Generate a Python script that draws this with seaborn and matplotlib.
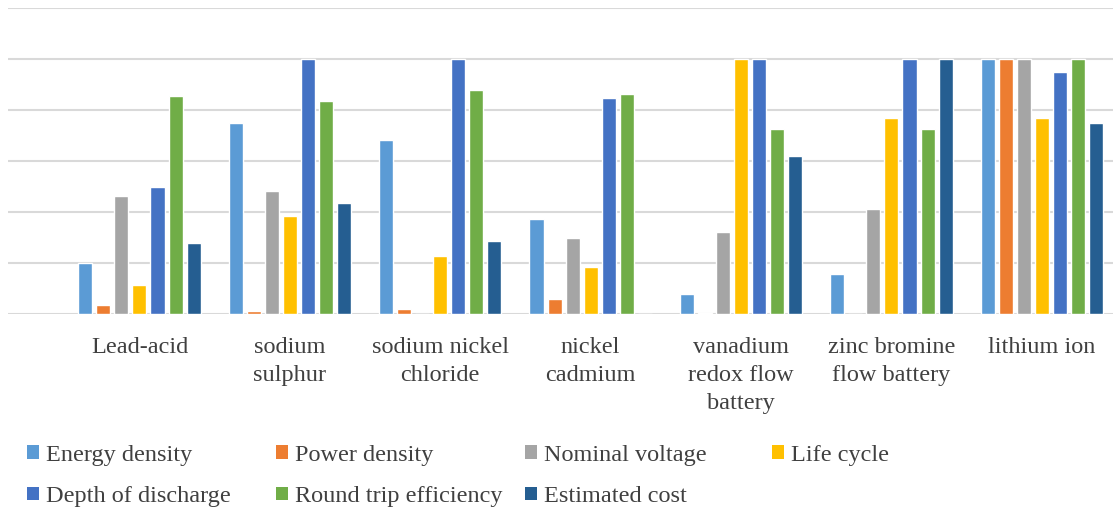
import matplotlib
matplotlib.use("Agg")
import matplotlib.pyplot as plt
import seaborn as sns
import pandas as pd
from matplotlib.patches import Patch

categories = ["Lead-acid", "sodium sulphur", "sodium nickel chloride", "nickel cadmium",
              "vanadium redox flow battery", "zinc bromine flow battery", "lithium ion"]
tick_labels = ["Lead-acid", "sodium\nsulphur", "sodium nickel\nchloride", "nickel\ncadmium",
               "vanadium\nredox flow\nbattery", "zinc bromine\nflow battery", "lithium ion"]
series = ["Energy density", "Power density", "Nominal voltage", "Life cycle",
          "Depth of discharge", "Round trip efficiency", "Estimated cost"]

energy_density = [0.20, 0.75, 0.685, 0.374, 0.080, 0.158, 1.00]
power_density = [0.037, 0.014, 0.022, 0.060, 0.004, 0.003, 1.00]
nominal_voltage = [0.465, 0.485, 0.0, 0.301, 0.322, 0.414, 1.00]
life_cycle = [0.115, 0.387, 0.229, 0.187, 1.00, 0.771, 0.771]
depth_of_discharge = [0.50, 1.00, 1.00, 0.848, 1.00, 1.00, 0.949]
round_trip_efficiency = [0.856, 0.835, 0.878, 0.862, 0.727, 0.727, 1.00]
estimated_cost = [0.279, 0.436, 0.288, 0.0, 0.622, 1.00, 0.751]

colors = ["#5B9BD5", "#ED7D31", "#A5A5A5", "#FFC000", "#4472C4", "#70AD47", "#255E91"]

values = [energy_density, power_density, nominal_voltage, life_cycle,
          depth_of_discharge, round_trip_efficiency, estimated_cost]
rows = []
for s, vals in zip(series, values):
    for c, v in zip(categories, vals):
        rows.append({"category": c, "series": s, "value": v})
df = pd.DataFrame(rows)

sns.set_theme(style="white")
plt.rcParams["font.family"] = ["Liberation Serif", "DejaVu Serif"]
text_color = "#404040"
fs = 17.5

fig = plt.figure(figsize=(11.13, 5.11), dpi=100)
ax = fig.add_axes([8 / 1113, 1 - 314.3 / 511, 1105 / 1113, (314.3 - 8.3) / 511])

sns.barplot(data=df, x="category", y="value", hue="series", order=categories,
            hue_order=series, palette=colors, width=0.84, gap=0.22, ax=ax,
            legend=False, saturation=1, errorbar=None)

ax.set_xlim(-0.874, 6.473)
ax.set_ylim(0, 1.2)
ax.set_yticks([0, 0.2, 0.4, 0.6, 0.8, 1.0, 1.2])
ax.set_yticklabels([])
ax.yaxis.grid(True, color="#D9D9D9", linewidth=1.5)
ax.set_axisbelow(True)
for sp in ax.spines.values():
    sp.set_visible(False)
ax.set_xlabel("")
ax.set_ylabel("")
ax.set_xticks(range(len(categories)))
ax.set_xticklabels(tick_labels, fontsize=fs, color=text_color, linespacing=1.46)
ax.tick_params(axis="x", length=0, pad=16)
ax.tick_params(axis="y", length=0)

# legend: four columns placed like the original
col_x = [27, 276, 525, 772]
columns = [[0, 4], [1, 5], [2, 6], [3]]
for x, idxs in zip(col_x, columns):
    handles = [Patch(facecolor=colors[i], edgecolor="none") for i in idxs]
    labels = [series[i] for i in idxs]
    fig.legend(handles, labels, loc="upper left",
               bbox_to_anchor=(x / 1113, 1 - 445 / 511),
               frameon=False, fontsize=fs, labelcolor=text_color,
               handlelength=0.5, handleheight=0.5, handletextpad=0.3,
               labelspacing=0.83, borderpad=0, borderaxespad=0)

fig.savefig("out.png", dpi=100)
